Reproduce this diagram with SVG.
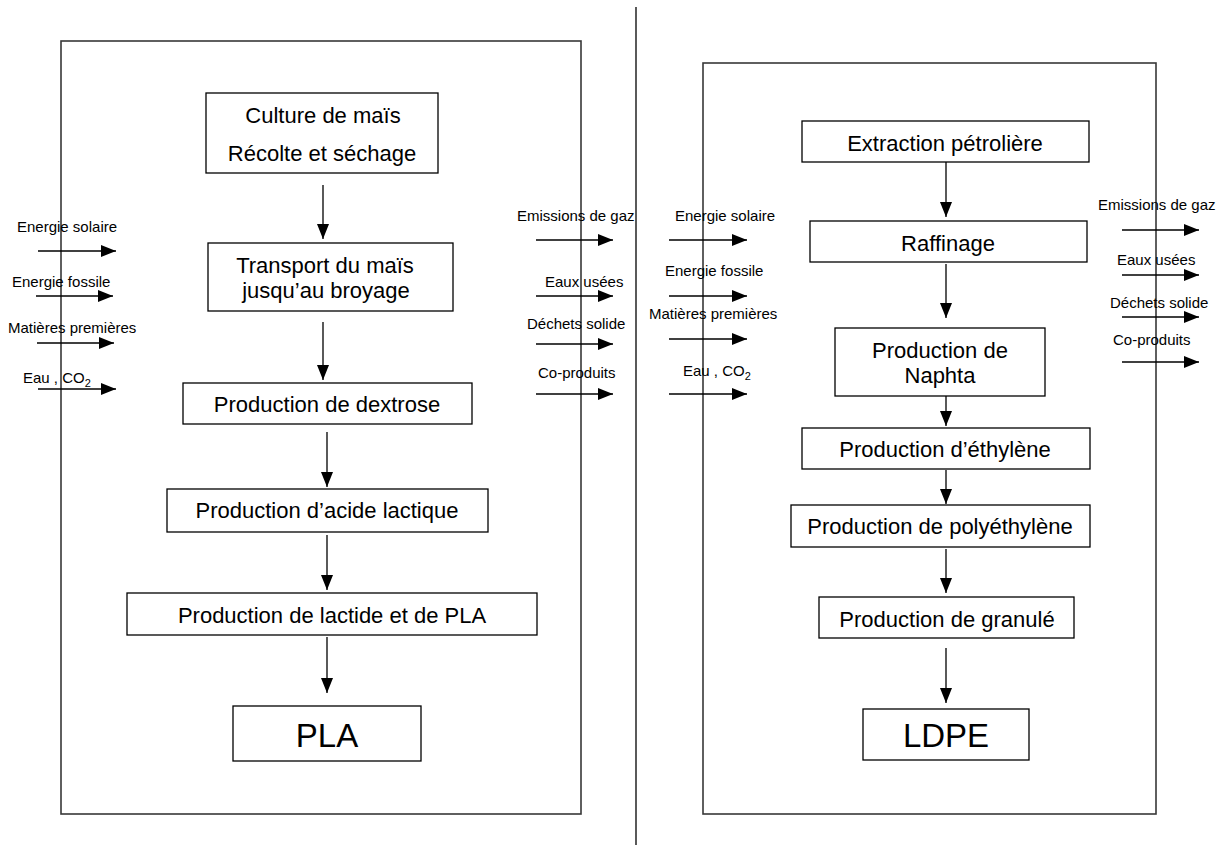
<svg xmlns="http://www.w3.org/2000/svg" width="1232" height="846" viewBox="0 0 1232 846">
  <style>
    .frame { fill: none; stroke: #383838; stroke-width: 1.6; }
    .box { fill: #fff; stroke: #000; stroke-width: 1.3; }
    .lbl { font-family: "Liberation Sans", Arial, sans-serif; font-size: 22px; fill: #000; text-anchor: middle; }
    .big { font-family: "Liberation Sans", Arial, sans-serif; font-size: 33px; fill: #000; text-anchor: middle; }
    .sm { font-family: "Liberation Sans", Arial, sans-serif; font-size: 15px; fill: #000; }
    .sub { font-size: 11px; }
    .flow { stroke: #000; stroke-width: 1.3; fill: none; marker-end: url(#tip); }
  </style>
  <defs>
    <marker id="tip" markerUnits="userSpaceOnUse" markerWidth="15" markerHeight="12" refX="15" refY="6" orient="auto">
      <path d="M0,0 L15,6 L0,12 Z" fill="#000"/>
    </marker>
  </defs>

  <rect width="1232" height="846" fill="#fff"/>

  <!-- system boundaries and divider -->
  <g id="boundaries">
    <rect class="frame" x="61" y="41" width="520" height="773"/>
    <rect class="frame" x="703" y="63" width="453" height="751"/>
    <line x1="636" y1="7" x2="636" y2="845" stroke="#000" stroke-width="1.3"/>
  </g>

  <!-- connectors -->
  <g id="connectors">
    <!-- PLA chain -->
    <line class="flow" x1="323" y1="185" x2="323" y2="239"/>
    <line class="flow" x1="323" y1="322" x2="323" y2="380"/>
    <line class="flow" x1="327" y1="432" x2="327" y2="487"/>
    <line class="flow" x1="327" y1="535" x2="327" y2="590"/>
    <line class="flow" x1="327" y1="637" x2="327" y2="693"/>
    <!-- LDPE chain -->
    <line class="flow" x1="946" y1="162" x2="946" y2="217"/>
    <line class="flow" x1="946" y1="264" x2="946" y2="318"/>
    <line class="flow" x1="946" y1="396" x2="946" y2="426"/>
    <line class="flow" x1="946" y1="470" x2="946" y2="504"/>
    <line class="flow" x1="946" y1="549" x2="946" y2="593"/>
    <line class="flow" x1="946" y1="648" x2="946" y2="703"/>
    <!-- PLA inputs -->
    <line class="flow" x1="38" y1="251" x2="116" y2="251"/>
    <line class="flow" x1="36" y1="296" x2="113" y2="296"/>
    <line class="flow" x1="37" y1="343" x2="114" y2="343"/>
    <line class="flow" x1="38" y1="389" x2="116" y2="389"/>
    <!-- PLA outputs -->
    <line class="flow" x1="536" y1="240" x2="613" y2="240"/>
    <line class="flow" x1="536" y1="296" x2="613" y2="296"/>
    <line class="flow" x1="536" y1="344" x2="613" y2="344"/>
    <line class="flow" x1="536" y1="394" x2="613" y2="394"/>
    <!-- LDPE inputs -->
    <line class="flow" x1="669" y1="240" x2="747" y2="240"/>
    <line class="flow" x1="669" y1="296" x2="747" y2="296"/>
    <line class="flow" x1="669" y1="339" x2="747" y2="339"/>
    <line class="flow" x1="669" y1="394" x2="747" y2="394"/>
    <!-- LDPE outputs -->
    <line class="flow" x1="1122" y1="230" x2="1199" y2="230"/>
    <line class="flow" x1="1122" y1="275" x2="1199" y2="275"/>
    <line class="flow" x1="1122" y1="317" x2="1199" y2="317"/>
    <line class="flow" x1="1122" y1="362" x2="1199" y2="362"/>
  </g>

  <!-- PLA process chain -->
  <g id="culture">
    <rect class="box" x="206" y="93" width="232" height="80"/>
    <text class="lbl" x="323" y="123">Culture de maïs</text>
    <text class="lbl" x="322" y="161">Récolte et séchage</text>
  </g>
  <g id="transport">
    <rect class="box" x="208" y="243" width="245" height="68"/>
    <text class="lbl" x="325" y="273">Transport du maïs</text>
    <text class="lbl" x="326" y="298">jusqu’au broyage</text>
  </g>
  <g id="dextrose">
    <rect class="box" x="183" y="383" width="289" height="41"/>
    <text class="lbl" x="327" y="412">Production de dextrose</text>
  </g>
  <g id="acide-lactique">
    <rect class="box" x="167" y="489" width="321" height="43"/>
    <text class="lbl" x="327" y="518">Production d’acide lactique</text>
  </g>
  <g id="lactide">
    <rect class="box" x="127" y="593" width="410" height="42"/>
    <text class="lbl" x="332" y="623">Production de lactide et de PLA</text>
  </g>
  <g id="pla">
    <rect class="box" x="233" y="706" width="188" height="55"/>
    <text class="big" x="327" y="747">PLA</text>
  </g>

  <!-- LDPE process chain -->
  <g id="extraction">
    <rect class="box" x="802" y="121" width="287" height="41"/>
    <text class="lbl" x="945" y="151">Extraction pétrolière</text>
  </g>
  <g id="raffinage">
    <rect class="box" x="810" y="221" width="277" height="41"/>
    <text class="lbl" x="948" y="251">Raffinage</text>
  </g>
  <g id="naphta">
    <rect class="box" x="835" y="328" width="210" height="68"/>
    <text class="lbl" x="940" y="358">Production de</text>
    <text class="lbl" x="940" y="383">Naphta</text>
  </g>
  <g id="ethylene">
    <rect class="box" x="802" y="428" width="288" height="41"/>
    <text class="lbl" x="945" y="457">Production d’éthylène</text>
  </g>
  <g id="polyethylene">
    <rect class="box" x="791" y="505" width="299" height="42"/>
    <text class="lbl" x="940" y="534">Production de polyéthylène</text>
  </g>
  <g id="granule">
    <rect class="box" x="819" y="597" width="255" height="41"/>
    <text class="lbl" x="947" y="627">Production de granulé</text>
  </g>
  <g id="ldpe">
    <rect class="box" x="863" y="709" width="166" height="51"/>
    <text class="big" x="946" y="747">LDPE</text>
  </g>

  <!-- flow labels -->
  <g id="pla-inputs">
    <text class="sm" x="17" y="232">Energie solaire</text>
    <text class="sm" x="12" y="287">Energie fossile</text>
    <text class="sm" x="8" y="333">Matières premières</text>
    <text class="sm" x="23" y="383">Eau , CO<tspan class="sub" dy="4">2</tspan></text>
  </g>
  <g id="pla-outputs">
    <text class="sm" x="517" y="221">Emissions de gaz</text>
    <text class="sm" x="545" y="287">Eaux usées</text>
    <text class="sm" x="527" y="329">Déchets solide</text>
    <text class="sm" x="538" y="378">Co-produits</text>
  </g>
  <g id="ldpe-inputs">
    <text class="sm" x="675" y="221">Energie solaire</text>
    <text class="sm" x="665" y="276">Energie fossile</text>
    <text class="sm" x="649" y="319">Matières premières</text>
    <text class="sm" x="683" y="376">Eau , CO<tspan class="sub" dy="4">2</tspan></text>
  </g>
  <g id="ldpe-outputs">
    <text class="sm" x="1098" y="210">Emissions de gaz</text>
    <text class="sm" x="1117" y="265">Eaux usées</text>
    <text class="sm" x="1110" y="308">Déchets solide</text>
    <text class="sm" x="1113" y="345">Co-produits</text>
  </g>
</svg>
